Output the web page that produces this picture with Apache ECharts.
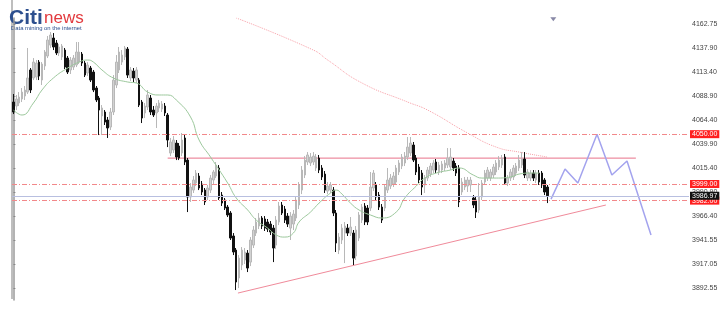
<!DOCTYPE html>
<html><head><meta charset="utf-8">
<script src="https://cdn.jsdelivr.net/npm/echarts@6/dist/echarts.min.js"></script>
<style>html,body{margin:0;padding:0;background:#fff}#c{width:728px;height:316px}</style>
</head><body><div id="c"></div>
<script>
// OHLC rows: [open, close, low, high]
const ohlc = [
[4082.9,4072.7,4070.6,4091.1],[4078.8,4086.0,4074.7,4090.1],[4081.9,4088.0,4078.8,4093.1],[4086.0,4093.1,4082.9,4097.2],
[4089.1,4095.2,4085.0,4099.3],[4093.1,4107.5,4091.1,4138.2],[4115.7,4095.2,4092.1,4117.7],[4107.5,4123.8,4105.4,4127.9],
[4108.5,4122.8,4105.4,4125.9],[4123.8,4109.5,4105.4,4125.9],[4105.4,4121.8,4100.3,4123.8],[4119.8,4134.1,4115.7,4136.1],
[4130.0,4146.4,4127.9,4150.5],[4141.2,4151.5,4138.2,4154.5],[4148.4,4139.2,4136.1,4153.5],[4143.3,4133.1,4131.0,4146.4],
[4133.1,4139.2,4130.0,4142.3],[4129.0,4140.2,4125.9,4142.3],[4136.1,4118.7,4116.7,4138.2],[4127.9,4113.6,4111.6,4130.0],
[4115.7,4125.9,4111.6,4129.0],[4118.7,4127.9,4115.7,4131.0],[4120.8,4134.1,4118.7,4144.3],[4123.8,4134.1,4121.8,4144.3],
[4132.0,4122.8,4119.8,4134.1],[4122.8,4110.5,4108.5,4124.9],[4112.6,4120.8,4109.5,4123.8],[4117.7,4105.4,4103.4,4119.8],
[4113.6,4095.2,4093.1,4115.7],[4097.2,4085.0,4082.9,4099.3],[4087.0,4074.7,4049.1,4089.1],[4068.6,4076.8,4049.1,4079.8],
[4072.7,4062.4,4059.4,4074.7],[4064.5,4056.3,4046.1,4067.6],[4057.3,4072.7,4054.2,4076.8],[4072.7,4105.4,4069.6,4110.5],
[4100.3,4123.8,4097.2,4131.0],[4115.7,4134.1,4112.6,4139.2],[4123.8,4131.0,4120.8,4136.1],[4129.0,4138.2,4125.9,4140.2],
[4137.1,4110.5,4107.5,4139.2],[4107.5,4115.7,4104.4,4118.7],[4114.6,4107.5,4103.4,4117.7],[4105.4,4115.7,4102.4,4118.7],
[4105.4,4079.8,4077.8,4107.5],[4082.9,4066.5,4061.4,4085.0],[4071.7,4078.8,4066.5,4081.9],[4077.8,4090.1,4074.7,4095.2],
[4087.0,4072.7,4069.6,4090.1],[4074.7,4069.6,4067.6,4078.8],[4071.7,4078.8,4056.3,4081.9],[4076.8,4081.9,4072.7,4085.0],
[4075.7,4080.9,4072.7,4083.9],[4078.8,4071.7,4068.6,4081.9],[4069.6,4044.0,4036.8,4071.7],[4030.7,4042.0,4027.6,4046.1],
[4033.8,4044.0,4030.7,4048.1],[4040.9,4026.6,4023.5,4044.0],[4037.9,4025.6,4023.5,4040.9],[4030.7,4044.0,4027.6,4051.2],
[4046.1,4021.5,4018.4,4050.2],[4023.5,3985.7,3970.3,4025.6],[3985.7,3995.9,3980.6,4000.0],[3992.8,4003.1,3989.8,4007.2],
[4000.0,4010.2,3996.9,4013.3],[4007.2,3994.9,3992.8,4010.2],[3999.0,3990.8,3987.7,4002.1],[3992.8,3980.6,3977.5,3994.9],
[3985.7,3994.9,3982.6,3998.0],[3992.8,4005.1,3989.8,4008.2],[4003.1,4011.3,3999.0,4013.3],[4007.2,4018.4,4005.1,4021.5],
[4015.4,3984.7,3982.6,4018.4],[3987.7,3979.5,3976.5,3990.8],[3982.6,3974.4,3972.4,3984.7],[3975.4,3967.3,3965.2,3977.5],
[3969.3,3943.7,3941.7,3971.3],[3945.8,3929.4,3926.3,3948.8],[3931.4,3898.7,3890.5,3933.5],[3902.8,3923.2,3892.5,3926.3],
[3916.1,3931.4,3910.9,3934.5],[3921.2,3929.4,3917.1,3933.5],[3928.3,3913.0,3908.9,3931.4],[3919.1,3941.7,3915.0,3944.7],
[3936.5,3951.9,3933.5,3956.0],[3948.8,3960.1,3945.8,3964.2],[3956.0,3964.2,3952.9,3969.3],[3964.2,3956.0,3952.9,3966.2],
[3963.2,3953.9,3950.9,3966.2],[3960.1,3952.9,3949.9,3963.2],[3958.0,3949.9,3946.8,3961.1],[3953.9,3933.5,3919.1,3957.0],
[3936.5,3962.1,3932.4,3966.2],[3960.1,3976.5,3957.0,3980.6],[3977.5,3969.3,3967.3,3980.6],[3973.4,3962.1,3959.1,3976.5],
[3966.2,3958.0,3955.0,3969.3],[3953.9,3966.2,3941.7,3970.3],[3958.0,3968.3,3951.9,3972.4],[3964.2,3982.6,3961.1,3986.7],
[3977.5,3998.0,3973.4,4001.0],[3992.8,4013.3,3988.7,4017.4],[4008.2,4023.5,4005.1,4027.6],[4021.5,4028.7,4018.4,4031.7],
[4020.5,4026.6,4017.4,4030.7],[4021.5,4027.6,4018.4,4031.7],[4015.4,4026.6,4012.3,4029.7],[4025.6,4013.3,4010.2,4028.7],
[4015.4,4006.2,4003.1,4018.4],[4009.2,3992.8,3989.8,4012.3],[3991.8,3996.9,3988.7,4001.0],[3992.8,3998.0,3989.8,4001.0],
[3992.8,3969.3,3966.2,3995.9],[3969.3,3938.6,3929.4,3972.4],[3931.4,3944.7,3927.3,3948.8],[3941.7,3953.9,3937.6,3958.0],
[3948.8,3956.0,3918.1,3960.1],[3953.9,3948.8,3945.8,3958.0],[3948.8,3955.0,3945.8,3965.2],[3948.8,3923.2,3916.1,3951.9],
[3925.3,3951.9,3921.2,3956.0],[3943.7,3967.3,3940.6,3970.3],[3962.1,3975.4,3959.1,3978.5],[3976.5,3960.1,3957.0,3979.5],
[3974.4,3960.1,3957.0,3977.5],[3974.4,3995.9,3971.3,4011.3],[3994.9,4010.2,3991.8,4013.3],[3998.0,3985.7,3982.6,4001.0],
[3987.7,3975.4,3972.4,3990.8],[3975.4,3962.1,3959.1,3978.5],[3974.4,3995.9,3971.3,3999.0],[3992.8,4003.1,3989.8,4015.4],
[3996.9,4005.1,3993.9,4009.2],[3999.0,4007.2,3995.9,4011.3],[4001.0,4015.4,3998.0,4018.4],[4011.3,4020.5,4008.2,4023.5],
[4017.4,4026.6,4014.3,4029.7],[4020.5,4027.6,4017.4,4031.7],[4026.6,4036.8,4023.5,4047.1],[4030.7,4040.9,4027.6,4047.1],
[4038.9,4023.5,4021.5,4042.0],[4025.6,4011.3,4008.2,4028.7],[4016.4,4003.1,4000.0,4019.5],[4010.2,3995.9,3987.7,4013.3],
[3998.0,4005.1,3989.8,4008.2],[4005.1,4013.3,4002.1,4016.4],[4009.2,4017.4,4006.2,4020.5],[4013.3,4020.5,4010.2,4023.5],
[4021.5,4013.3,4010.2,4024.6],[4011.3,4018.4,4008.2,4021.5],[4013.3,4019.5,4010.2,4022.5],[4015.4,4020.5,4012.3,4023.5],
[4018.4,4025.6,4015.4,4035.8],[4016.4,4026.6,4013.3,4035.8],[4022.5,4015.4,4012.3,4025.6],[4017.4,4010.2,4007.2,4020.5],
[4015.4,3980.6,3975.4,4018.4],[3990.8,4001.0,3987.7,4005.1],[3995.9,4003.1,3992.8,4006.2],[3996.9,4003.1,3990.8,4006.2],
[3998.0,4003.1,3990.8,4006.2],[3984.7,3977.5,3974.4,3987.7],[3982.6,3970.3,3964.2,3985.7],[3972.4,3985.7,3969.3,4000.0],
[3985.7,4000.0,3982.6,4003.1],[4001.0,4010.2,3998.0,4013.3],[4005.1,4013.3,4002.1,4016.4],[4005.1,4011.3,4002.1,4014.3],
[4008.2,4016.4,4005.1,4019.5],[4011.3,4020.5,4008.2,4023.5],[4016.4,4023.5,4013.3,4027.6],[4018.4,4025.6,4015.4,4028.7],
[4026.6,4000.0,3998.0,4029.7],[4000.0,4005.1,3996.9,4008.2],[4005.1,4011.3,4002.1,4014.3],[4006.2,4015.4,4003.1,4018.4],
[4010.2,4017.4,4007.2,4020.5],[4015.4,4023.5,4012.3,4028.7],[4018.4,4024.6,4015.4,4031.7],[4024.6,4008.2,4005.1,4031.7],
[4005.1,4011.3,4002.1,4014.3],[4005.1,4010.2,4002.1,4013.3],[4010.2,4005.1,4002.1,4013.3],[4003.1,4010.2,4000.0,4013.3],
[4010.2,4001.0,3998.0,4013.3],[4010.2,3998.0,3994.9,4012.3],[4003.1,3990.8,3987.7,4005.1],[3995.9,3986.97,3979.5,3998.0]
];

// moving average readings: [bar index, price]
const maFast = [[0,4074.7],[3,4069.6],[7,4081.9],[10,4095.2],[14,4107.5],[19,4117.7],[23,4123.8],[26,4125.9],[28,4123.8],
[31,4115.7],[35,4107.5],[40,4103.4],[43,4102.4],[47,4093.1],[51,4090.1],[54,4090.1],[57,4085.0],[62,4067.6],[65,4044.0],
[69,4026.6],[75,4000.0],[78,3984.7],[82,3972.4],[85,3962.1],[89,3953.9],[92,3946.8],[95,3944.7],[98,3948.8],[100,3960.1],
[104,3970.3],[107,3979.5],[111,3989.8],[113,3992.8],[115,3988.7],[118,3979.5],[121,3972.4],[125,3967.3],[129,3964.2],
[134,3970.3],[137,3984.7],[141,3996.9],[144,4005.1],[148,4010.2],[153,4013.3],[156,4015.4],[161,4008.2],[164,4005.1],
[169,4005.1],[174,4006.2],[177,4009.2],[181,4010.2],[184,4010.2]];
const maSlow = [[78,4168.9],[105,4136.1],[110,4125.9],[122,4102.4],[138,4082.9],[145,4074.7],[159,4051.2],[169,4036.8],
[177,4031.7],[187,4026.6]];

// drawn levels and projections
const resistance = [[54,4025.5],[217.9,4025.5]];
const trendLine = [[78.6,3887.4],[207.4,3977.5]];
const projection = [[188.2,3983.6],[193.1,4014.4],[197.6,4000.0],[204.3,4050.0],[209.5,4008.2],[214.8,4022.5],[223.2,3946.8]];
const redLevels = [4050.00, 3999.00, 3982.00];
const lastPrice = 3986.97;
const shiftMarker = [[189,4167.6]];
const yTicks = [4162.75,4137.90,4113.40,4088.90,4064.40,4039.90,4015.40,3990.90,3966.40,3941.55,3917.05,3892.55];
const slotCount = 237;

const chart = echarts.init(document.getElementById('c'), null, {renderer:'canvas'});
const redLabel = {show:true, position:'end', distance:1, formatter:p=>p.value.toFixed(2),
  color:'#fff', backgroundColor:'#ff1f1f', fontSize:7, padding:[1,2,0,2], fontFamily:'Liberation Sans, Arial'};
const markData = redLevels.map(v=>({yAxis:v, lineStyle:{color:'#f2888a', type:[5,2,1,2], width:1}, label:redLabel}));
markData.push({yAxis:lastPrice, lineStyle:{color:'#b8bfe0', type:'solid', width:1},
  label:Object.assign({}, redLabel, {backgroundColor:'#111'})});

chart.setOption({
  animation:false,
  backgroundColor:'#fff',
  grid:{left:12, right:39, top:18, bottom:16, containLabel:false},
  xAxis:{type:'value', min:-0.5, max:slotCount-0.5, show:false},
  yAxis:{type:'value', position:'right', min:3880.3, max:4168.9, scale:true,
    axisLine:{show:true, lineStyle:{color:'#9a9a9a', width:1.5}},
    axisTick:{show:true, length:2, lineStyle:{color:'#888'}, customValues:yTicks},
    splitLine:{show:false},
    axisLabel:{customValues:yTicks, formatter:v=>v.toFixed(2), fontSize:7, color:'#444', margin:3,
      fontFamily:'Liberation Sans, Arial'}},
  graphic:[
    {type:'line', shape:{x1:12,y1:0,x2:12,y2:299}, style:{stroke:'#a8a8a8', lineWidth:1.5}},
    {type:'text', left:9, top:8, style:{text:'Citi', fontSize:21, fontWeight:'bold', fill:'#2d4f8e', fontFamily:'Liberation Sans, Arial'}},
    {type:'text', left:44, top:10, style:{text:'news', fontSize:17, fill:'#e23a3e', fontFamily:'Liberation Sans, Arial'}},
    {type:'text', left:11, top:25, style:{text:'Data mining on the internet', fontSize:5.9, fill:'#2d4f8e', fontFamily:'Liberation Sans, Arial'}}
  ],
  series:[
    {type:'line', data:maSlow, showSymbol:false, smooth:true, lineStyle:{color:'#f7a0a8', width:1, type:'dotted'}, z:1},
    {type:'line', data:maFast, showSymbol:false, smooth:true, lineStyle:{color:'#9cc89c', width:1}, z:3},
    {type:'candlestick', data:ohlc.map((d,i)=>[i,d[0],d[1],d[2],d[3]]), encode:{x:0,y:[1,2,3,4]},
      barWidth:2,
      itemStyle:{color:'#d2d2d2', color0:'#111', borderColor:'#b8b8b8', borderColor0:'#111', borderWidth:1},
      z:2,
      markLine:{symbol:['none','none'], silent:true, animation:false, data:markData}},
    {type:'line', data:resistance, showSymbol:false, lineStyle:{color:'#e8718a', width:1}, z:2},
    {type:'line', data:trendLine, showSymbol:false, lineStyle:{color:'#f08a9a', width:1}, z:2},
    {type:'line', data:projection, showSymbol:false, lineStyle:{color:'#a3a3ee', width:1.5}, z:4},
    {type:'scatter', data:shiftMarker, symbol:'triangle', symbolRotate:180, symbolSize:[6,4], itemStyle:{color:'#6a6a90'}}
  ]
});
</script></body></html>
